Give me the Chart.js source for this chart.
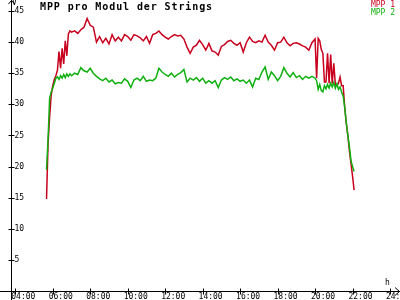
<!DOCTYPE html>
<html>
<head>
<meta charset="utf-8">
<script src="https://cdn.jsdelivr.net/npm/chart.js@4"></script>
<style>
html,body{margin:0;padding:0;background:#fff;}
canvas{display:block;}
</style>
</head>
<body>
<canvas id="c" width="400" height="300"></canvas>
<script>
const titleText = "MPP pro Modul der Strings";
const seriesNames = ["MPP 1", "MPP 2"];
const seriesColors = ["#c8001e", "#10b010"];
const xTicks = [4, 6, 8, 10, 12, 14, 16, 18, 20, 22, 24];
const yTicks = [5, 10, 15, 20, 25, 30, 35, 40, 45];

const times = [
"05:40","05:45","05:50","05:55","06:00","06:05","06:10","06:15","06:20","06:25","06:30","06:35","06:40","06:45","06:50","06:55","07:00",
"07:10","07:20","07:30","07:40","07:50",
"08:00","08:10","08:20","08:30","08:40","08:50",
"09:00","09:10","09:20","09:30","09:40","09:50",
"10:00","10:10","10:20","10:30","10:40","10:50",
"11:00","11:10","11:20","11:30","11:40","11:50",
"12:00","12:10","12:20","12:30","12:40","12:50",
"13:00","13:10","13:20","13:30","13:40","13:50",
"14:00","14:10","14:20","14:30","14:40","14:50",
"15:00","15:10","15:20","15:30","15:40","15:50",
"16:00","16:10","16:20","16:30","16:40","16:50",
"17:00","17:10","17:20","17:30","17:40","17:50",
"18:00","18:10","18:20","18:30","18:40","18:50",
"19:00","19:10","19:20","19:30","19:40","19:50",
"20:00",
"20:05","20:10","20:15","20:20","20:25","20:30","20:35","20:40","20:45","20:50","20:55","21:00",
"21:05","21:10","21:15","21:20","21:25","21:30","21:35","21:40","21:45","21:50","21:55","22:00","22:05"
];

const mpp1 = [
14.8,23.8,28.0,31.5,33.0,34.0,34.6,35.5,38.5,35.8,39.0,36.5,40.2,37.8,41.3,41.8,41.6,
41.8,41.4,42.0,42.4,43.8,
42.7,42.4,40.0,40.9,39.9,40.6,
39.7,41.2,40.2,40.8,40.2,41.2,
40.9,40.3,41.2,41.0,40.7,40.2,
40.9,39.8,41.2,41.4,41.8,41.2,
40.8,40.5,40.9,41.2,41.0,41.1,
40.5,39.2,38.2,39.2,39.5,40.3,
39.6,38.7,39.8,38.6,38.4,37.9,
39.3,39.6,40.1,40.3,39.8,39.5,
39.9,38.4,39.9,40.8,40.1,39.9,
40.2,40.0,41.1,40.0,39.5,38.7,
39.9,40.0,40.8,39.9,39.4,39.8,
39.9,39.7,39.4,39.2,38.7,39.9,
40.5,
34.2,40.6,40.2,38.8,38.2,33.6,33.6,38.2,33.4,38.0,33.3,36.6,
33.2,33.0,33.4,34.4,33.0,33.0,29.5,27.0,25.0,22.5,20.5,18.5,16.2
];

const mpp2 = [
19.5,24.5,31.0,32.0,32.6,33.4,34.2,34.4,34.0,34.6,34.2,34.8,34.3,34.9,34.5,34.9,34.6,
35.0,34.8,35.9,35.4,35.2,
35.8,35.0,34.5,34.1,33.8,34.2,
33.6,33.9,33.3,33.5,33.4,34.1,
33.7,32.7,33.9,34.2,33.8,34.5,
33.7,33.9,33.8,34.2,35.8,35.2,
34.8,34.5,35.0,34.4,34.8,35.1,
35.6,33.6,34.2,33.9,34.3,33.7,
34.2,33.4,33.8,33.4,33.8,32.7,
33.9,34.3,34.0,34.4,33.8,34.1,
33.7,33.9,33.4,33.9,32.8,34.2,
34.0,35.2,36.0,34.0,35.2,34.6,
33.8,34.5,35.9,35.0,34.4,35.1,
34.3,34.6,34.0,34.5,34.2,34.5,
34.2,
33.8,32.4,33.2,32.2,32.0,33.0,32.5,33.2,32.6,33.4,32.8,33.5,
32.6,33.3,32.4,32.8,32.0,31.3,29.5,27.0,25.0,23.2,21.0,20.0,19.2
];

function toHours(s){ const p = s.split(':'); return +p[0] + (+p[1])/60; }
function pts(vals){ return times.map((t,i)=>({x: toHours(t), y: vals[i]})); }
function pad2(n){ return (n < 10 ? '0' : '') + n; }

const MONO = "'DejaVu Sans Mono', monospace";

const decor = {
  id: 'decor',
  afterDraw(chart){
    const ctx = chart.ctx, ca = chart.chartArea;
    const xs = chart.scales.x, ys = chart.scales.y;
    const ax = Math.round(ca.left) + 0.5, ay = Math.round(ca.bottom) + 0.5;
    ctx.save();
    ctx.strokeStyle = '#000'; ctx.lineWidth = 1;
    ctx.beginPath();
    ctx.moveTo(0, ay); ctx.lineTo(400, ay);
    ctx.moveTo(ax, 0); ctx.lineTo(ax, 300);
    xs.ticks.forEach(t => { const px = Math.round(xs.getPixelForValue(t.value)) + 0.5; ctx.moveTo(px, ay - 3); ctx.lineTo(px, ay + 3); });
    ys.ticks.forEach(t => { const py = Math.round(ys.getPixelForValue(t.value)) + 0.5; ctx.moveTo(ax - 3, py); ctx.lineTo(ax + 3, py); });
    ctx.moveTo(ax - 3, 4); ctx.lineTo(ax, 0.5); ctx.lineTo(ax + 3, 4);
    ctx.moveTo(395, ay - 4); ctx.lineTo(399.5, ay); ctx.lineTo(395, ay + 4);
    ctx.stroke();
    ctx.fillStyle = '#000';
    ctx.font = "8px " + MONO;
    ctx.textBaseline = 'alphabetic';
    ctx.textAlign = 'left';
    ctx.fillText('V', 12, 4.5);
    ctx.fillText('h', 385, 284.5);
    ctx.font = "bold 10px " + MONO;
    try { ctx.letterSpacing = '0.9px'; } catch(e) {}
    ctx.fillText(titleText, 40, 10);
    try { ctx.letterSpacing = '0px'; } catch(e) {}
    ctx.font = "8px " + MONO;
    ctx.textAlign = 'right';
    ctx.fillStyle = seriesColors[0]; ctx.fillText(seriesNames[0], 395, 7);
    ctx.fillStyle = seriesColors[1]; ctx.fillText(seriesNames[1], 395, 14.5);
    ctx.restore();
  }
};

new Chart(document.getElementById('c'), {
  type: 'line',
  data: {
    datasets: [
      { label: seriesNames[0], data: pts(mpp1), borderColor: seriesColors[0], backgroundColor: seriesColors[0], borderWidth: 1.5, pointRadius: 0, tension: 0, fill: false, order: 1 },
      { label: seriesNames[1], data: pts(mpp2), borderColor: seriesColors[1], backgroundColor: seriesColors[1], borderWidth: 1.5, pointRadius: 0, tension: 0, fill: false, order: 0 }
    ]
  },
  options: {
    responsive: false,
    animation: false,
    devicePixelRatio: 1,
    layout: { padding: { left: 11, right: 2, top: 0, bottom: 0 } },
    plugins: { legend: { display: false }, title: { display: false }, tooltip: { enabled: false } },
    scales: {
      x: {
        type: 'linear', position: 'bottom', min: 3.771, max: 24.427,
        grid: { display: false, drawTicks: false },
        border: { display: true, color: '#000', width: 1 },
        ticks: {
          color: '#000', font: { family: MONO, size: 8, lineHeight: 1 }, padding: 1.5,
          labelOffset: 8, maxRotation: 0, autoSkip: false,
          callback: v => pad2(v) + ':00'
        },
        afterBuildTicks: s => { s.ticks = xTicks.map(v => ({ value: v })); },
        afterFit: s => { s.paddingLeft = 0; s.paddingRight = 0; s.height = 9; }
      },
      y: {
        type: 'linear', position: 'left', min: 0, max: 46.77,
        grid: { display: false, drawTicks: false },
        border: { display: true, color: '#000', width: 1 },
        ticks: {
          color: '#000', font: { family: MONO, size: 8, lineHeight: 1 }, mirror: true, padding: 3.5
        },
        afterBuildTicks: s => { s.ticks = yTicks.map(v => ({ value: v })); },
        afterFit: s => { s.width = 0; s.paddingTop = 0; s.paddingBottom = 0; }
      }
    }
  },
  plugins: [decor]
});
</script>
</body>
</html>
